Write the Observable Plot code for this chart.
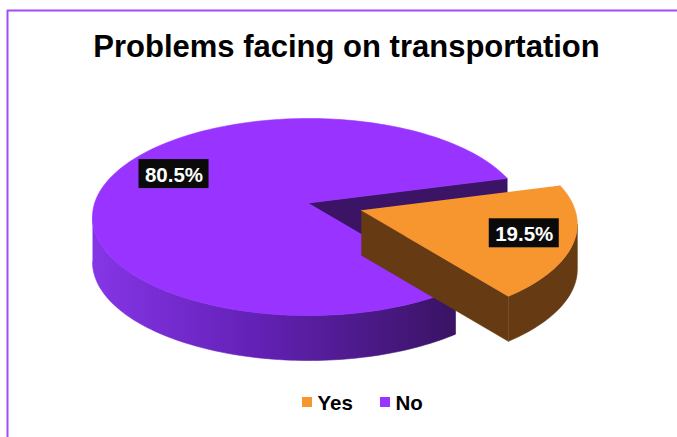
<!DOCTYPE html>
<html><head><meta charset="utf-8">
<script src="https://cdn.jsdelivr.net/npm/d3@7"></script>
<script src="https://cdn.jsdelivr.net/npm/@observablehq/plot@0.6"></script>
<style>html,body{margin:0;padding:0;background:#fff;} svg{display:block;}</style>
</head><body><div id="chart"></div>
<script>
// ---- data ----
const title = "Problems facing on transportation";
const categories = ["Yes", "No"];
const values = [19.5, 80.5];
const labels = ["19.5%", "80.5%"];
const colors = ["#F7962F", "#9933FF"];
const sideColors = ["#663A12", "#3B1466"];

// ---- layout ----
const W = 677, H = 437;
const cx = 308, cy = 216.5, rx = 216, ry = 98.5, lift = 14, depth = 45;
const explode = [0.25, 0];
const yesCentreDeg = -12;
const labelRadius = 0.76;
const labelShiftDeg = [5, -23];
const font = "'Liberation Sans', Arial, sans-serif";

const total = d3.sum(values);
const rad = d => d * Math.PI / 180;
let acc = yesCentreDeg - (values[0] / total * 360) / 2;
const slices = categories.map((cat, i) => {
  const span = values[i] / total * 360;
  const a0 = acc, a1 = acc + span; acc = a1;
  const mid = (a0 + a1) / 2;
  const e = explode[i];
  return {cat, i, a0, a1, mid, e, ox: e * rx * Math.cos(rad(mid)), oy: -e * ry * Math.sin(rad(mid)) * 1.4};
});

const P = (deg, s, dz = 0, r = 1) => ({x: cx + s.ox + rx * r * Math.cos(rad(deg)), y: cy + s.oy - ry * r * Math.sin(rad(deg)) + dz});
const T = (s, dz = 0) => ({x: cx + s.ox, y: cy + s.oy - lift + dz});
const arc = (d0, d1, s, dz = 0) => {
  const n = Math.max(2, Math.ceil(Math.abs(d1 - d0) / 1.5));
  return d3.range(n + 1).map(k => P(d0 + (d1 - d0) * k / n, s, dz));
};
function frontRanges(a0, a1) {
  const out = [];
  for (let k = -2; k <= 2; k++) {
    const lo = Math.max(a0, k * 360 - 180), hi = Math.min(a1, k * 360);
    if (hi > lo) out.push([lo, hi]);
  }
  return out;
}

const faces = [];
const gradients = [];
for (const s of slices.slice().sort((p, q) => p.e - q.e)) {
  if (Math.cos(rad(s.a0)) > 0) faces.push({fill: sideColors[s.i], pts: [T(s), P(s.a0, s), P(s.a0, s, depth), T(s, depth)]});
  if (Math.cos(rad(s.a1)) < 0) faces.push({fill: sideColors[s.i], pts: [T(s), P(s.a1, s), P(s.a1, s, depth), T(s, depth)]});
  for (const [lo, hi] of frontRanges(s.a0, s.a1)) {
    const pts = [...arc(lo, hi, s), ...arc(hi, lo, s, depth)];
    let fill = sideColors[s.i];
    if (s.cat === "No") {
      const id = "wall" + s.i + "_" + gradients.length;
      gradients.push({id, x1: d3.min(pts, p => p.x), x2: d3.max(pts, p => p.x),
        stops: [[0, "#8535E6"], [0.45, "#6321B6"], [1, "#391363"]]});
      fill = `url(#${id})`;
    }
    faces.push({fill, pts});
  }
  faces.push({fill: colors[s.i], pts: [T(s), ...arc(s.a0, s.a1, s)]});
}

const labelRows = slices.map(s => {
  const p = P(s.mid + labelShiftDeg[s.i], s, 0, labelRadius);
  return {x: p.x, y: p.y, text: labels[s.i]};
});

const legendX = [302, 380];
const legendRows = categories.map((c, i) => ({c, x: legendX[i], color: colors[i]}));

const marks = [
  Plot.ruleY([{y: 10, x1: 7, x2: W}], {y: "y", x1: "x1", x2: "x2", stroke: "#A24CF6", strokeWidth: 2}),
  Plot.ruleX([{x: 7, y1: 10, y2: H}], {x: "x", y1: "y1", y2: "y2", stroke: "#A24CF6", strokeWidth: 2}),
  Plot.text([{t: title, x: 346, y: 56}], {x: "x", y: "y", text: "t", fontSize: 31, fontWeight: "bold", fontFamily: font, fill: "#000", textAnchor: "middle", lineAnchor: "bottom"}),
  ...faces.map(f => Plot.line(f.pts, {x: "x", y: "y", fill: f.fill, stroke: f.fill, strokeWidth: 0.6, curve: "linear"})),
  Plot.rect(labelRows, {x1: d => d.x - 35, x2: d => d.x + 35, y1: d => d.y - 14.5, y2: d => d.y + 14.5, fill: "#0A0A0A"}),
  Plot.text(labelRows, {x: "x", y: d => d.y + 7.5, text: "text", fill: "#fff", fontSize: 20.5, fontWeight: "bold", fontFamily: font, textAnchor: "middle", lineAnchor: "bottom"}),
  Plot.rect(legendRows, {x1: "x", x2: d => d.x + 10, y1: () => 397, y2: () => 407, fill: "color"}),
  Plot.text(legendRows, {x: d => d.x + 15, y: () => 409, text: "c", fill: "#000", fontSize: 20.5, fontWeight: "bold", fontFamily: font, textAnchor: "start", lineAnchor: "bottom"})
];

const plot = Plot.plot({
  width: W, height: H,
  margin: 0,
  x: {domain: [0, W], range: [0, W], axis: null},
  y: {domain: [0, H], range: [0, H], axis: null},
  color: {type: "identity"},
  marks
});

const defs = d3.select(plot).insert("defs", ":first-child");
for (const g of gradients) {
  const lg = defs.append("linearGradient").attr("id", g.id).attr("gradientUnits", "userSpaceOnUse")
    .attr("x1", g.x1).attr("x2", g.x2).attr("y1", 0).attr("y2", 0);
  for (const [o, c] of g.stops) lg.append("stop").attr("offset", o).attr("stop-color", c);
}
document.getElementById("chart").appendChild(plot);
</script>
</body></html>
